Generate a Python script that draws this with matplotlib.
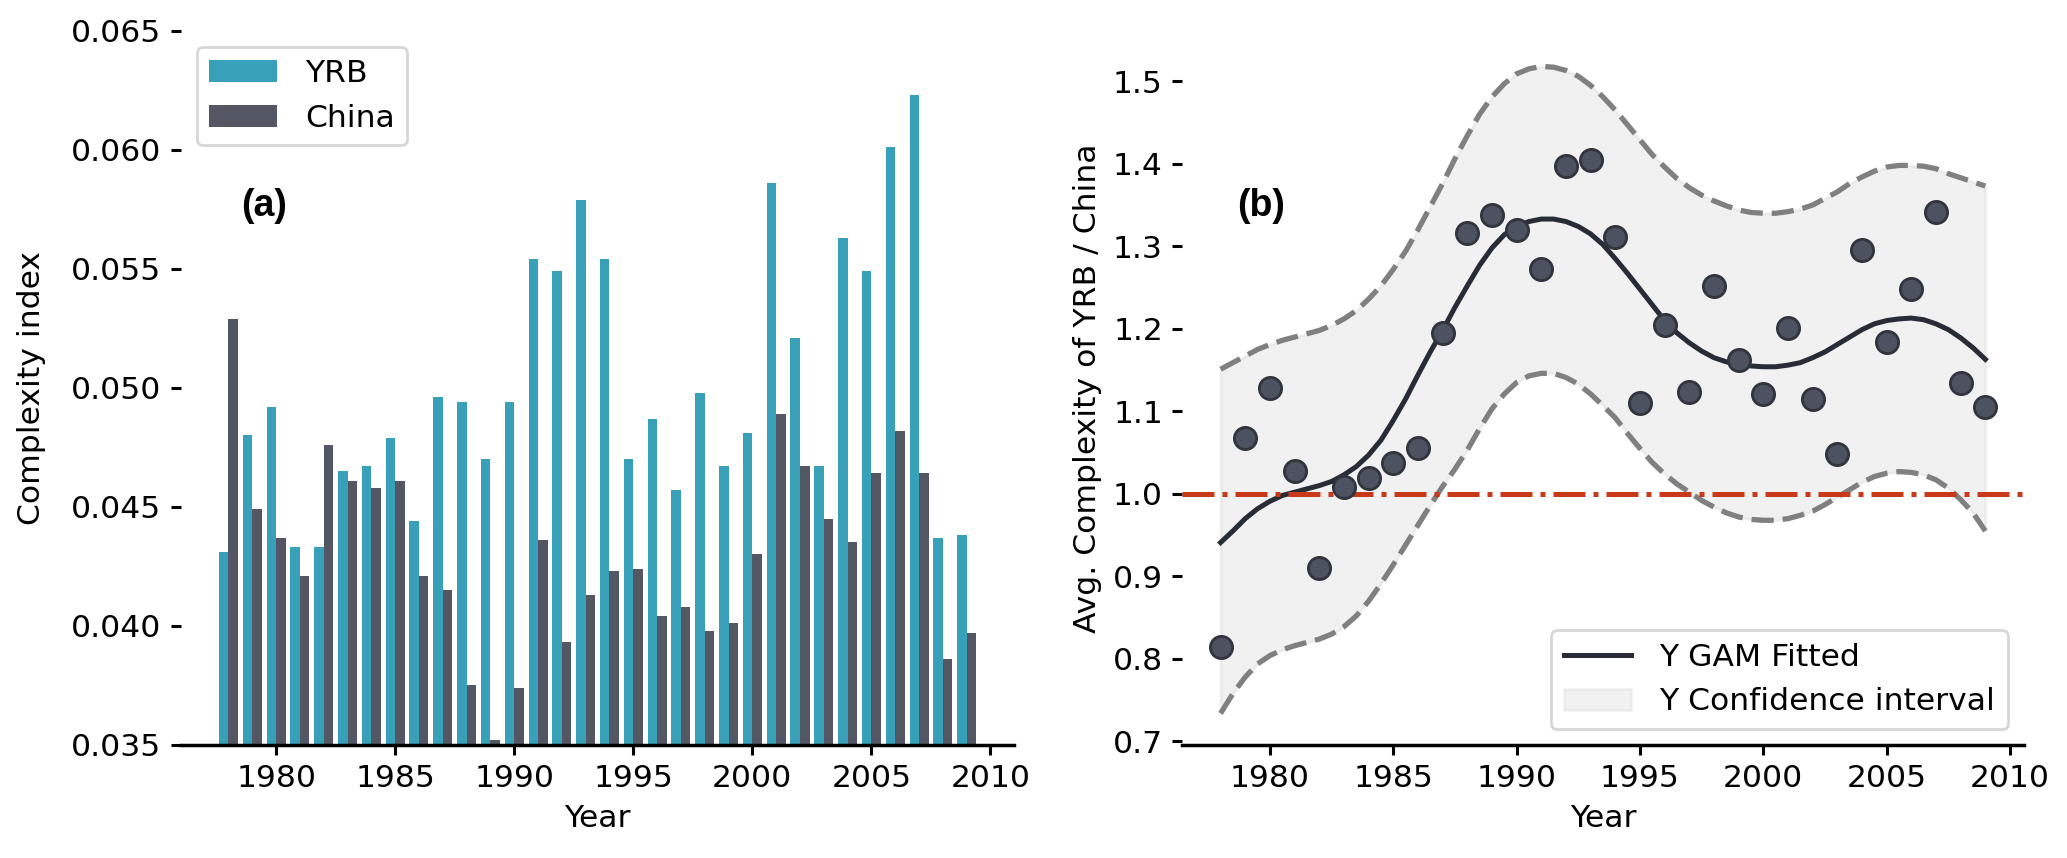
import numpy as np
import matplotlib
matplotlib.use("Agg")
import matplotlib.pyplot as plt

# 年份与两组复杂度指数
years = np.arange(1978, 2010)
yrb = [0.0431, 0.0480, 0.0492, 0.0433, 0.0433, 0.0465, 0.0467, 0.0479, 0.0444, 0.0496,
       0.0494, 0.0470, 0.0494, 0.0554, 0.0549, 0.0579, 0.0554, 0.0470, 0.0487, 0.0457,
       0.0498, 0.0467, 0.0481, 0.0586, 0.0521, 0.0467, 0.0563, 0.0549, 0.0601, 0.0623,
       0.0437, 0.0438]
china = [0.0529, 0.0449, 0.0437, 0.0421, 0.0476, 0.0461, 0.0458, 0.0461, 0.0421, 0.0415,
         0.0375, 0.0352, 0.0374, 0.0436, 0.0393, 0.0413, 0.0423, 0.0424, 0.0404, 0.0408,
         0.0398, 0.0401, 0.0430, 0.0489, 0.0467, 0.0445, 0.0435, 0.0464, 0.0482, 0.0464,
         0.0386, 0.0397]

# 比值散点
ratio = [0.815, 1.068, 1.128, 1.028, 0.910, 1.008, 1.019, 1.038, 1.055, 1.195,
         1.316, 1.338, 1.320, 1.272, 1.397, 1.404, 1.311, 1.110, 1.205, 1.123,
         1.252, 1.162, 1.121, 1.201, 1.115, 1.048, 1.296, 1.184, 1.248, 1.342,
         1.134, 1.105]

# GAM 拟合曲线及置信区间（每半年读一个值）
curve_years = np.arange(1978, 2009.01, 0.5)
gam_fit = [0.941, 0.955, 0.970, 0.982, 0.991, 0.998, 1.002, 1.006, 1.010, 1.015,
           1.023, 1.033, 1.047, 1.065, 1.089, 1.115, 1.144, 1.172, 1.198, 1.226,
           1.252, 1.277, 1.298, 1.314, 1.324, 1.330, 1.333, 1.333, 1.330, 1.324,
           1.315, 1.302, 1.285, 1.267, 1.248, 1.229, 1.210, 1.195, 1.183, 1.173,
           1.165, 1.160, 1.157, 1.155, 1.154, 1.154, 1.156, 1.159, 1.165, 1.172,
           1.181, 1.190, 1.199, 1.206, 1.210, 1.212, 1.213, 1.211, 1.206, 1.199,
           1.189, 1.177, 1.163]
ci_upper = [1.151, 1.159, 1.167, 1.175, 1.181, 1.186, 1.190, 1.194, 1.198, 1.204,
            1.212, 1.222, 1.236, 1.252, 1.272, 1.294, 1.320, 1.348, 1.376, 1.406,
            1.434, 1.460, 1.481, 1.497, 1.509, 1.515, 1.518, 1.517, 1.513, 1.506,
            1.495, 1.481, 1.465, 1.447, 1.429, 1.411, 1.396, 1.382, 1.371, 1.362,
            1.355, 1.349, 1.344, 1.341, 1.340, 1.340, 1.342, 1.345, 1.350, 1.358,
            1.366, 1.376, 1.384, 1.391, 1.396, 1.398, 1.398, 1.397, 1.394, 1.388,
            1.383, 1.378, 1.373]
ci_lower = [0.734, 0.758, 0.778, 0.794, 0.804, 0.811, 0.816, 0.820, 0.824, 0.830,
            0.839, 0.852, 0.870, 0.891, 0.914, 0.938, 0.962, 0.986, 1.009, 1.030,
            1.053, 1.079, 1.103, 1.121, 1.135, 1.143, 1.146, 1.146, 1.141, 1.133,
            1.121, 1.107, 1.092, 1.073, 1.055, 1.038, 1.024, 1.012, 1.002, 0.992,
            0.984, 0.977, 0.972, 0.969, 0.968, 0.968, 0.970, 0.974, 0.979, 0.987,
            0.996, 1.005, 1.014, 1.021, 1.025, 1.027, 1.026, 1.023, 1.017, 1.007,
            0.993, 0.977, 0.955]

plt.rcParams['font.size'] = 11.3
plt.rcParams['axes.linewidth'] = 1.25
plt.rcParams['xtick.major.width'] = 1.1
plt.rcParams['ytick.major.width'] = 1.1

fig = plt.figure(figsize=(10.335, 4.29), dpi=200)
ax1 = fig.add_axes([0.0876, 0.132, 0.403, 0.832])
ax2 = fig.add_axes([0.572, 0.132, 0.407, 0.832])

# (a) 柱状图
w = 0.4
ax1.bar(years - w, yrb, width=w, align='edge', color='#38a0b8', label='YRB')
ax1.bar(years, china, width=w, align='edge', color='#525763', label='China')
ax1.set_ylim(0.035, 0.065)
ax1.set_yticks(np.arange(0.035, 0.0651, 0.005))
ax1.set_xticks(range(1980, 2011, 5))
ax1.set_xlabel('Year')
ax1.set_ylabel('Complexity index', labelpad=9)
ax1.legend(loc='upper left', handlelength=2.15, handletextpad=0.9)
ax1.text(0.1, 0.754, '(a)', transform=ax1.transAxes, ha='center', va='center',
         fontsize=13.5, fontweight='bold', family='Liberation Sans')

# (b) 比值与 GAM
ax2.fill_between(curve_years, ci_lower, ci_upper, color='lightgray', alpha=0.3,
                 label='Y Confidence interval')
ax2.plot(curve_years, ci_upper, color='gray', linestyle=(0, (4.2, 1.7)), lw=1.9)
ax2.plot(curve_years, ci_lower, color='gray', linestyle=(0, (4.2, 1.7)), lw=1.9)
ax2.plot(curve_years, gam_fit, color='#282c36', lw=1.8, label='Y GAM Fitted')
ax2.scatter(years, ratio, s=64, facecolor='#4d5260', edgecolor='#30343d', lw=1.0, zorder=3)
ax2.axhline(1.0, color='#c8391a', linestyle='-.', lw=1.8)
ax2.set_ylim(0.696, 1.561)
ax2.set_yticks(np.arange(0.7, 1.51, 0.1))
ax2.set_xticks(range(1980, 2011, 5))
ax2.set_xlabel('Year')
ax2.set_ylabel('Avg. Complexity of YRB / China')
h, l = ax2.get_legend_handles_labels()
ax2.legend([h[1], h[0]], [l[1], l[0]], loc='lower right', handlelength=2.15,
           handletextpad=0.9)
ax2.text(0.094, 0.754, '(b)', transform=ax2.transAxes, ha='center', va='center',
         fontsize=13.5, fontweight='bold', family='Liberation Sans')

for ax in (ax1, ax2):
    for s in ['left', 'top', 'right']:
        ax.spines[s].set_visible(False)

fig.savefig('out.png', dpi=200)
